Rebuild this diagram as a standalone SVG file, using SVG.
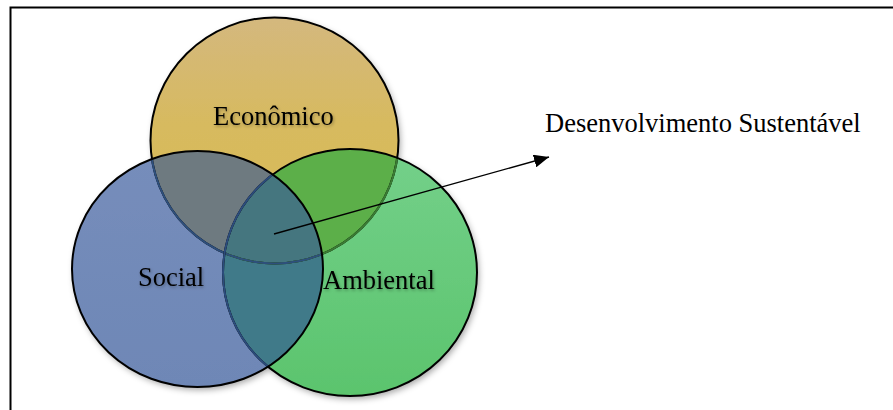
<svg xmlns="http://www.w3.org/2000/svg" width="893" height="410" viewBox="0 0 893 410">
<style>
.lbl{font-family:"Liberation Serif","Times New Roman",serif;font-size:26.5px;fill:#000}
.out{fill:none;stroke-width:2}
</style>
<defs>
<linearGradient id="gE" x1="0" y1="0" x2="0" y2="1">
<stop offset="0" stop-color="#D4B87E"/><stop offset="0.45" stop-color="#D7BA5E"/><stop offset="1" stop-color="#D9BB55"/>
</linearGradient>
<linearGradient id="gG" x1="0" y1="0" x2="0" y2="1">
<stop offset="0" stop-color="#74D08A"/><stop offset="1" stop-color="#5BC46D"/>
</linearGradient>
<linearGradient id="gS" x1="0" y1="0" x2="0" y2="1">
<stop offset="0" stop-color="#768DBB"/><stop offset="1" stop-color="#6E87B6"/>
</linearGradient>
<clipPath id="cE"><ellipse cx="274.5" cy="140.5" rx="124" ry="123"/></clipPath>
<clipPath id="cG"><ellipse cx="350" cy="272.5" rx="127" ry="123.5"/></clipPath>
<clipPath id="cS"><ellipse cx="197.5" cy="269" rx="125.5" ry="118"/></clipPath>
<filter id="sh" x="-10%" y="-10%" width="130%" height="130%">
<feDropShadow dx="2" dy="3" stdDeviation="3" flood-color="#000" flood-opacity="0.35"/>
</filter>
<filter id="ts" x="-10%" y="-20%" width="120%" height="150%">
<feDropShadow dx="1" dy="1.5" stdDeviation="1.5" flood-color="#000" flood-opacity="0.3"/>
</filter>
<marker id="ah" viewBox="0 0 10 10" refX="10" refY="5" markerWidth="15" markerHeight="13" markerUnits="userSpaceOnUse" orient="auto" preserveAspectRatio="none">
<path d="M0,0 L10,5 L0,10 z" fill="#000"/>
</marker>
</defs>
<rect x="0" y="0" width="893" height="410" fill="#fff"/>
<rect x="10.5" y="7.5" width="900" height="420" fill="none" stroke="#000" stroke-width="2"/>

<g id="fills" filter="url(#sh)">
<ellipse cx="274.5" cy="140.5" rx="124" ry="123" fill="url(#gE)"/>
<ellipse cx="350" cy="272.5" rx="127" ry="123.5" fill="url(#gG)"/>
<ellipse cx="197.5" cy="269" rx="125.5" ry="118" fill="url(#gS)"/>
<ellipse cx="350" cy="272.5" rx="127" ry="123.5" fill="#5CAF49" clip-path="url(#cE)"/>
<ellipse cx="197.5" cy="269" rx="125.5" ry="118" fill="#6E7A80" clip-path="url(#cE)"/>
<ellipse cx="197.5" cy="269" rx="125.5" ry="118" fill="#3F7A89" clip-path="url(#cG)"/>
<g clip-path="url(#cG)"><ellipse cx="197.5" cy="269" rx="125.5" ry="118" fill="#44767F" clip-path="url(#cE)"/></g>
</g>

<g id="economico">
<ellipse class="out" cx="274.5" cy="140.5" rx="124" ry="123" stroke="#000"/>
<ellipse class="out" cx="274.5" cy="140.5" rx="124" ry="123" stroke="#3A7C33" clip-path="url(#cG)"/>
<ellipse class="out" cx="274.5" cy="140.5" rx="124" ry="123" stroke="#2E4F7C" clip-path="url(#cS)"/>
<text class="lbl" x="213" y="125" filter="url(#ts)">Econômico</text>
</g>
<g id="ambiental">
<ellipse class="out" cx="350" cy="272.5" rx="127" ry="123.5" stroke="#000"/>
<ellipse class="out" cx="350" cy="272.5" rx="127" ry="123.5" stroke="#2C4C7C" clip-path="url(#cS)"/>
<text class="lbl" x="323" y="289" filter="url(#ts)">Ambiental</text>
</g>
<g id="social">
<ellipse class="out" cx="197.5" cy="269" rx="125.5" ry="118" stroke="#000"/>
<text class="lbl" x="138" y="286" filter="url(#ts)">Social</text>
</g>
<g id="desenvolvimento">
<text class="lbl" x="545" y="132">Desenvolvimento Sustentável</text>
</g>
<g id="connectors">
<line x1="274" y1="234" x2="549" y2="157" stroke="#000" stroke-width="1.3" marker-end="url(#ah)"/>
</g>
</svg>
